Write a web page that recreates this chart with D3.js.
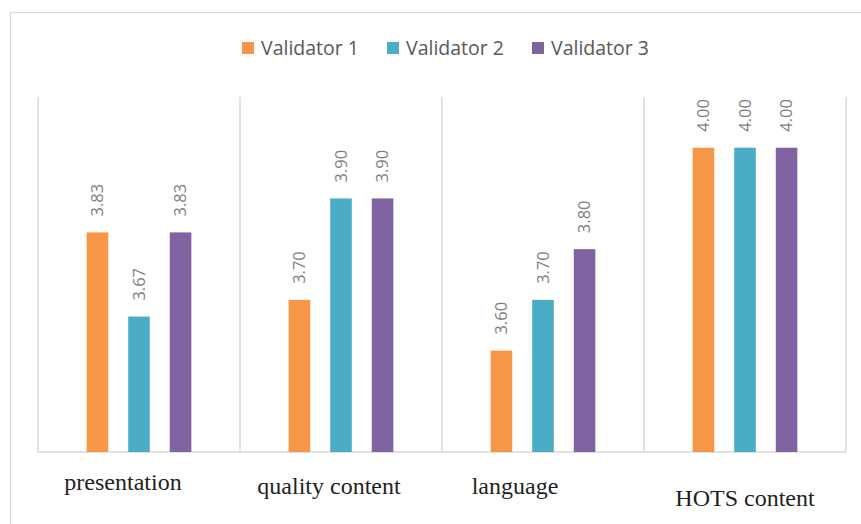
<!DOCTYPE html>
<html>
<head>
<meta charset="utf-8">
<script src="https://cdn.jsdelivr.net/npm/d3@7"></script>
<style>
  body { margin: 0; background: #fff; }
</style>
</head>
<body>
<div id="chart"></div>
<script>
// data ---------------------------------------------------------------
const categories = ['presentation', 'quality content', 'language', 'HOTS content'];
const seriesNames = ['Validator 1', 'Validator 2', 'Validator 3'];
const validator1 = [3.833, 3.70, 3.60, 4.00];
const validator2 = [3.667, 3.90, 3.70, 4.00];
const validator3 = [3.833, 3.90, 3.80, 4.00];
const colors = ['#F79646', '#4BACC6', '#8064A2'];

const width = 861, height = 524;
const plot = { left: 38, right: 846, top: 97, bottom: 452 };
// label nudges (the category labels are staggered in the original)
const labelShift = [[-16, 490], [-12, 494], [-28, 494], [0, 506]];

const svg = d3.select('#chart').append('svg')
  .attr('width', width)
  .attr('height', height);

// outer frame
svg.append('rect')
  .attr('x', 10.5).attr('y', 12.5)
  .attr('width', 880).attr('height', 540)
  .attr('fill', '#fff')
  .attr('stroke', '#d9d9d9')
  .attr('stroke-width', 1.2);

// scales
const x0 = d3.scaleBand()
  .domain(categories)
  .range([plot.left, plot.right]);
const x1 = d3.scaleBand()
  .domain(seriesNames)
  .range([0, x0.bandwidth()])
  .paddingInner(0.48)
  .paddingOuter(1.17);
const y = d3.scaleLinear()
  .domain([3.4, 4.1])
  .range([plot.bottom, plot.top]);

// vertical separators
const seps = categories.map(c => x0(c)).concat([plot.right]);
svg.append('g').selectAll('line')
  .data(seps)
  .enter().append('line')
  .attr('x1', d => d).attr('x2', d => d)
  .attr('y1', plot.top).attr('y2', plot.bottom)
  .attr('stroke', '#d9d9d9')
  .attr('stroke-width', 1.5);

// baseline
svg.append('line')
  .attr('x1', plot.left).attr('x2', plot.right)
  .attr('y1', plot.bottom).attr('y2', plot.bottom)
  .attr('stroke', '#d9d9d9')
  .attr('stroke-width', 1.5);

// bars
const allSeries = [validator1, validator2, validator3];
const rows = [];
categories.forEach((c, i) => {
  seriesNames.forEach((s, j) => {
    rows.push({ cat: c, series: s, value: allSeries[j][i], color: colors[j] });
  });
});

svg.append('g').selectAll('rect')
  .data(rows)
  .enter().append('rect')
  .attr('x', d => x0(d.cat) + x1(d.series))
  .attr('y', d => y(d.value))
  .attr('width', x1.bandwidth())
  .attr('height', d => y(3.4) - y(d.value))
  .attr('fill', d => d.color);

// value labels
svg.append('g').selectAll('text')
  .data(rows)
  .enter().append('text')
  .attr('transform', d => 'translate(' + (x0(d.cat) + x1(d.series) + x1.bandwidth() / 2) + ',' + (y(d.value) - 16) + ') rotate(-90)')
  .attr('dy', '0.35em')
  .attr('text-anchor', 'start')
  .attr('font-family', '"Open Sans", sans-serif')
  .attr('font-size', '16.5px')
  .attr('fill', '#7f7f7f')
  .text(d => d.value.toFixed(2));

// category labels
svg.append('g').selectAll('text')
  .data(categories)
  .enter().append('text')
  .attr('x', (d, i) => x0(d) + x0.bandwidth() / 2 + labelShift[i][0])
  .attr('y', (d, i) => labelShift[i][1])
  .attr('text-anchor', 'middle')
  .attr('font-family', '"Liberation Serif", serif')
  .attr('font-size', '24px')
  .attr('fill', '#1f1f1f')
  .text(d => d);

// legend
const legend = svg.append('g')
  .attr('transform', 'translate(242, 48)');
const item = legend.selectAll('g')
  .data(seriesNames)
  .enter().append('g')
  .attr('transform', (d, i) => 'translate(' + (i * 145) + ',0)');
item.append('rect')
  .attr('x', 0).attr('y', -6)
  .attr('width', 12).attr('height', 12)
  .attr('fill', (d, i) => colors[i]);
item.append('text')
  .attr('x', 19)
  .attr('dy', '0.35em')
  .attr('font-family', '"Open Sans", sans-serif')
  .attr('font-size', '19.5px')
  .attr('fill', '#595959')
  .text(d => d);
</script>
</body>
</html>
